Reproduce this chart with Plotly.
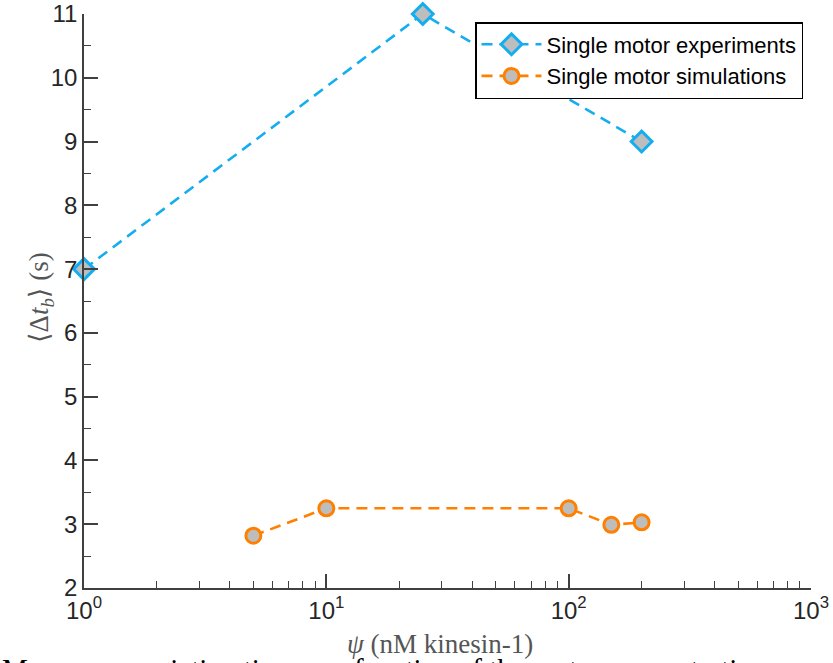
import plotly.graph_objects as go

# Data
exp_x = [1, 25, 200]
exp_y = [7, 11, 9]
sim_x = [5, 10, 100, 150, 200]
sim_y = [2.82, 3.25, 3.25, 2.99, 3.03]

xtick_vals = [1, 10, 100, 1000]
xtick_text = ["10<sup>0</sup>", "10<sup>1</sup>", "10<sup>2</sup>", "10<sup>3</sup>"]
xminor_vals = [m * 10 ** k for k in range(3) for m in range(2, 10)]

W, H = 833, 663
L, R, T, B = 84, 22, 14, 75
PW, PH = W - L - R, H - T - B

def px(xp):
    return (xp - L) / PW

def py(yp):
    return (H - B - yp) / PH

fig = go.Figure()
fig.add_trace(go.Scatter(
    x=exp_x, y=exp_y, mode="lines+markers", name="Single motor experiments",
    line=dict(color="#14aef0", width=2.6, dash="11px,7px"),
    marker=dict(symbol="diamond", size=16, color="#bdbdbd",
                line=dict(color="#14aef0", width=3)),
    cliponaxis=False,
))
fig.add_trace(go.Scatter(
    x=sim_x, y=sim_y, mode="lines+markers", name="Single motor simulations",
    line=dict(color="#ff8000", width=2.6, dash="11px,7px"),
    marker=dict(symbol="circle", size=15, color="#bdbdbd",
                line=dict(color="#ff8000", width=3)),
    cliponaxis=False,
))

axis_common = dict(
    showline=True, linecolor="#404040", linewidth=1.5, mirror=False,
    ticks="inside", ticklen=14, tickwidth=1.5, tickcolor="#404040",
    showgrid=False, zeroline=False, automargin=False,
    tickfont=dict(family="Liberation Sans, Arial", size=24, color="#262626"),
)

fig.update_xaxes(
    type="log", range=[0, 3],
    tickmode="array", tickvals=xtick_vals, ticktext=xtick_text,
    minor=dict(tickmode="array", tickvals=xminor_vals, ticks="inside",
               ticklen=7, tickwidth=1.2, tickcolor="#404040", showgrid=False),
    **axis_common,
)
fig.update_yaxes(
    range=[2, 11], dtick=1, tick0=2,
    minor=dict(dtick=0.5, tick0=2, ticks="inside", ticklen=7, tickwidth=1.2,
               tickcolor="#404040", showgrid=False),
    **axis_common,
)

title_font = dict(family="Liberation Serif, DejaVu Serif", size=27, color="#555555")

# x-axis title
fig.add_annotation(
    text="<i>ψ</i> (nM kinesin-1)", xref="paper", yref="paper",
    x=px(440), y=py(644), xanchor="center", yanchor="middle",
    showarrow=False, font=title_font,
)
# y-axis title
fig.add_annotation(
    text="⟨Δ<i>t</i><sub><i>b</i></sub>⟩ (s)", xref="paper", yref="paper",
    x=px(41), y=py(298), xanchor="center", yanchor="middle", textangle=-90,
    showarrow=False, font=title_font,
)
# caption (cut off by the bottom edge)
fig.add_annotation(
    text="Mean re-association time as a function of the motor concentration",
    xref="paper", yref="paper", x=px(0), y=py(651),
    xanchor="left", yanchor="top", showarrow=False,
    font=dict(family="Liberation Serif, DejaVu Serif", size=29, color="#000000"),
)

fig.update_layout(
    width=W, height=H,
    margin=dict(l=L, r=R, t=T, b=B),
    paper_bgcolor="white", plot_bgcolor="white",
    showlegend=True,
    legend=dict(
        x=px(803), y=py(22),
        xanchor="right", yanchor="top",
        bgcolor="white", bordercolor="black", borderwidth=1.5,
        font=dict(family="Liberation Sans, Arial", size=22, color="black"),
        tracegroupgap=0, itemwidth=60,
    ),
)

fig.write_html("out.html")
